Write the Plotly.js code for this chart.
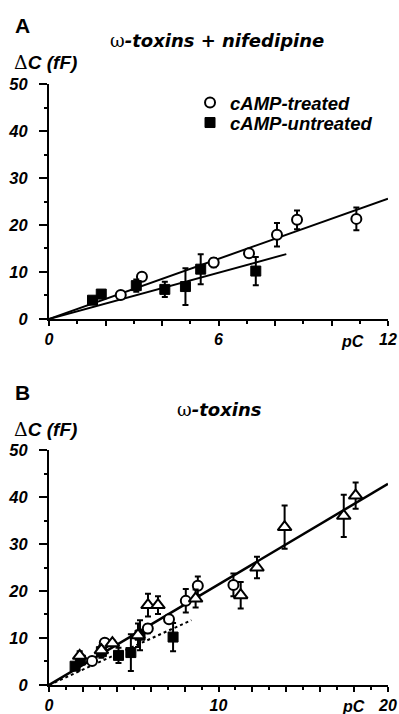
<!DOCTYPE html>
<html>
<head>
<meta charset="utf-8">
<script src="https://cdn.plot.ly/plotly-3.0.1.min.js"></script>
<style>html,body{margin:0;padding:0;background:#fff;}#chart{width:399px;height:714px;}</style>
</head>
<body>
<div id="chart"></div>
<script>
// ---------- data ----------
// cAMP-treated (open circles)
var treatedX   = [2.54, 3.29, 5.83, 7.08, 8.07, 8.78, 10.88];
var treatedY   = [5.1, 9.0, 12.0, 14.0, 17.9, 21.1, 21.3];
var treatedErr = [0.4, 0.6, 1.0, 0.6, 2.5, 2.0, 2.4];
// cAMP-untreated (filled squares)
var untreatedX   = [1.54, 1.85, 3.09, 4.10, 4.83, 5.37, 7.32];
var untreatedY   = [4.0, 5.3, 7.1, 6.3, 6.9, 10.6, 10.2];
var untreatedErr = [0.3, 0.3, 1.3, 1.6, 3.9, 3.2, 3.0];
// omega-toxins only (open triangles, panel B)
var toxinX   = [1.81, 3.09, 3.74, 5.25, 5.84, 6.43, 8.65, 11.31, 12.27, 13.9, 17.39, 18.09];
var toxinY   = [6.2, 7.4, 8.9, 10.6, 17.0, 17.0, 18.4, 19.1, 25.0, 33.6, 36.0, 40.3];
var toxinErr = [1.0, 0.8, 0.6, 2.5, 2.4, 1.9, 1.9, 2.8, 2.3, 4.6, 4.5, 2.8];
// fitted lines
var fitTreatedAX = [0, 12];   var fitTreatedAY = [0, 25.6];
var fitUntreatedX = [0, 8.4]; var fitUntreatedY = [0, 13.8];
var fitAllBX = [0, 20];       var fitAllBY = [0, 42.8];
// tick labels
var yTickVals = [0, 10, 20, 30, 40, 50];
var yTickText = ['0', '10', '20', '30', '40', '50'];
var xATickVals = [0, 2, 4, 6, 8, 10, 12];
var xATickText = ['0', '', '', '6', '', '', '12'];
var xBTickVals = [0, 2, 4, 6, 8, 10, 12, 14, 16, 18, 20];
var xBTickText = ['0', '', '', '', '', '10', '', '', '', '', '20'];
var legendNames = ['cAMP-treated', 'cAMP-untreated'];

// ---------- styling ----------
var FAM = 'Liberation Sans, Arial, sans-serif';
var FAM2 = 'DejaVu Sans, sans-serif';
function bfont(sz, fam) { return {family: fam || FAM, size: sz, color: '#000', weight: 'bold', style: 'italic'}; }
var SYM = function (c) { return '<span style="font-weight:normal;font-style:normal;font-family:DejaVu Serif">' + c + '</span>'; };

function errStyle(arr) { return {type: 'data', array: arr, visible: true, color: '#000', thickness: 2, width: 3}; }

var traces = [
  // Panel A
  {x: fitTreatedAX, y: fitTreatedAY, mode: 'lines', line: {color: '#000', width: 2}, showlegend: false, hoverinfo: 'skip', xaxis: 'x', yaxis: 'y'},
  {x: fitUntreatedX, y: fitUntreatedY, mode: 'lines', line: {color: '#000', width: 2}, showlegend: false, hoverinfo: 'skip', xaxis: 'x', yaxis: 'y'},
  {x: treatedX, y: treatedY, error_y: errStyle(treatedErr), mode: 'markers', name: legendNames[0], legend: 'legend',
   marker: {symbol: 'circle', size: 10, color: '#fff', line: {color: '#000', width: 2}}, xaxis: 'x', yaxis: 'y'},
  {x: untreatedX, y: untreatedY, error_y: errStyle(untreatedErr), mode: 'markers', name: legendNames[1], legend: 'legend2',
   marker: {symbol: 'square', size: 10, color: '#000', line: {color: '#000', width: 1}}, xaxis: 'x', yaxis: 'y'},
  // Panel B
  {x: fitAllBX, y: fitAllBY, mode: 'lines', line: {color: '#000', width: 2.5}, showlegend: false, hoverinfo: 'skip', xaxis: 'x2', yaxis: 'y2'},
  {x: fitUntreatedX, y: fitUntreatedY, mode: 'lines', line: {color: '#000', width: 2, dash: '3px,3px'}, showlegend: false, hoverinfo: 'skip', xaxis: 'x2', yaxis: 'y2'},
  {x: untreatedX, y: untreatedY, error_y: errStyle(untreatedErr), mode: 'markers', showlegend: false,
   marker: {symbol: 'square', size: 10, color: '#000', line: {color: '#000', width: 1}}, xaxis: 'x2', yaxis: 'y2'},
  {x: treatedX, y: treatedY, error_y: errStyle(treatedErr), mode: 'markers', showlegend: false,
   marker: {symbol: 'circle', size: 10, color: '#fff', line: {color: '#000', width: 2}}, xaxis: 'x2', yaxis: 'y2'},
  {x: toxinX, y: toxinY, error_y: errStyle(toxinErr), mode: 'markers', showlegend: false,
   marker: {symbol: 'triangle-up', size: 12, color: '#fff', line: {color: '#000', width: 2}}, xaxis: 'x2', yaxis: 'y2'}
];

function xaxisCfg(vals, text, rng, anchor) {
  return {range: rng, anchor: anchor, domain: [0, 1], showline: true, linecolor: '#000', linewidth: 2,
    ticks: 'outside', ticklen: 5, tickwidth: 2, tickcolor: '#000', tickmode: 'array', tickvals: vals, ticktext: text,
    tickfont: bfont(16), showgrid: false, zeroline: false, fixedrange: true, ticklabelstandoff: 0,
    minor: {dtick: 1, ticks: 'outside', ticklen: 3, tickwidth: 2, tickcolor: '#000', showgrid: false}};
}
function yaxisCfg(dom, anchor) {
  return {range: [0, 50], domain: dom, anchor: anchor, showline: true, linecolor: '#000', linewidth: 2,
    ticks: 'outside', ticklen: 8, tickwidth: 2, tickcolor: '#000', tickmode: 'array', tickvals: yTickVals, ticktext: yTickText,
    tickfont: bfont(16.5), showgrid: false, zeroline: false, fixedrange: true, ticklabelstandoff: 8,
    minor: {dtick: 5, ticks: 'outside', ticklen: 3, tickwidth: 2, tickcolor: '#000', showgrid: false}};
}

var legBase = {xanchor: 'left', yanchor: 'middle', font: bfont(18.5), bgcolor: 'rgba(0,0,0,0)', itemwidth: 30, borderwidth: 0};
var layout = {
  width: 399, height: 714,
  margin: {l: 49, r: 11, t: 84, b: 29},
  paper_bgcolor: '#fff', plot_bgcolor: '#fff',
  showlegend: true,
  legend: Object.assign({x: 0.416, y: 0.9684}, legBase),
  legend2: Object.assign({x: 0.416, y: 0.9351}, legBase),
  xaxis: xaxisCfg(xATickVals, xATickText, [0, 12], 'y'),
  yaxis: yaxisCfg([0.609, 1], 'x'),
  xaxis2: xaxisCfg(xBTickVals, xBTickText, [0, 20], 'y2'),
  yaxis2: yaxisCfg([0, 0.391], 'x2'),
  annotations: [
    {text: 'A', xref: 'paper', yref: 'paper', x: -0.0767, y: 1.098, xanchor: 'center', yanchor: 'middle', showarrow: false,
     font: {family: FAM, size: 21, color: '#000', weight: 'bold'}},
    {text: 'B', xref: 'paper', yref: 'paper', x: -0.0767, y: 0.486, xanchor: 'center', yanchor: 'middle', showarrow: false,
     font: {family: FAM, size: 21, color: '#000', weight: 'bold'}},
    {text: SYM('ω') + '-toxins + nifedipine', xref: 'paper', yref: 'paper', x: 0.496, y: 1.0716, xanchor: 'center', yanchor: 'middle', showarrow: false, font: bfont(18, FAM2)},
    {text: SYM('ω') + '-toxins', xref: 'paper', yref: 'paper', x: 0.503, y: 0.459, xanchor: 'center', yanchor: 'middle', showarrow: false, font: bfont(18, FAM2)},
    {text: SYM('Δ') + 'C (fF)', xref: 'paper', yref: 'paper', x: -0.0103, y: 1.0366, xanchor: 'center', yanchor: 'middle', showarrow: false, font: bfont(19)},
    {text: SYM('Δ') + 'C (fF)', xref: 'paper', yref: 'paper', x: -0.0103, y: 0.426, xanchor: 'center', yanchor: 'middle', showarrow: false, font: bfont(19)},
    {text: 'pC', xref: 'x', yref: 'paper', x: 11.22, y: 0.572, xanchor: 'right', yanchor: 'middle', showarrow: false, font: bfont(16)},
    {text: 'pC', xref: 'x2', yref: 'paper', x: 18.74, y: -0.035, xanchor: 'right', yanchor: 'middle', showarrow: false, font: bfont(16)}
  ]
};

Plotly.newPlot('chart', traces, layout, {displayModeBar: false, staticPlot: true});
</script>
</body>
</html>
